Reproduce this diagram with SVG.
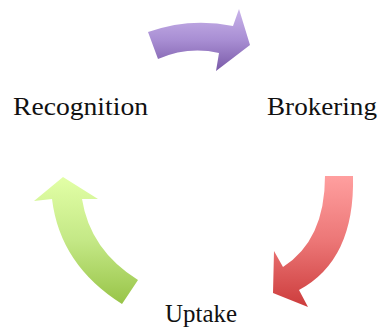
<svg xmlns="http://www.w3.org/2000/svg" width="383" height="329" viewBox="0 0 383 329">
<defs>
<linearGradient id="gPurple" x1="0" y1="0" x2="0" y2="1">
<stop offset="0" stop-color="#c9b3ea"/>
<stop offset="0.5" stop-color="#a88ed3"/>
<stop offset="1" stop-color="#7a5aa8"/>
</linearGradient>
<linearGradient id="gRed" x1="0" y1="0" x2="0" y2="1">
<stop offset="0" stop-color="#ff9f9f"/>
<stop offset="0.5" stop-color="#ec7676"/>
<stop offset="1" stop-color="#cc3c3c"/>
</linearGradient>
<linearGradient id="gGreen" x1="0" y1="0" x2="0" y2="1">
<stop offset="0" stop-color="#e2ffa6"/>
<stop offset="0.5" stop-color="#c4e886"/>
<stop offset="1" stop-color="#98c448"/>
</linearGradient>
<style>
.lbl{font-family:"Liberation Serif","DejaVu Serif",serif;font-size:26px;fill:#111}
</style>
</defs>
<g id="connectors">
<path id="arrow-purple" fill="url(#gPurple)" d="M148,32 Q190,17 233,26 L239,9 L250,45 L216,71 L219,53 Q188,46 158,59 Z"/>
<path id="arrow-red" fill="url(#gRed)" d="M325,176 L353,176 Q355,260 299,290 L308,307 L273,293 L274,251 L283,267 Q325,240 325,176 Z"/>
<path id="arrow-green" fill="url(#gGreen)" d="M34,201 L63,177 L98,199 L82,199 Q90,250 138,280 L122,304 Q60,265 52,199 Z"/>
</g>
<g id="node-recognition"><text class="lbl" x="13" y="115" textLength="135" lengthAdjust="spacingAndGlyphs">Recognition</text></g>
<g id="node-brokering"><text class="lbl" x="267" y="115" textLength="110" lengthAdjust="spacingAndGlyphs">Brokering</text></g>
<g id="node-uptake"><text class="lbl" x="165" y="322" textLength="72" lengthAdjust="spacingAndGlyphs">Uptake</text></g>
</svg>
